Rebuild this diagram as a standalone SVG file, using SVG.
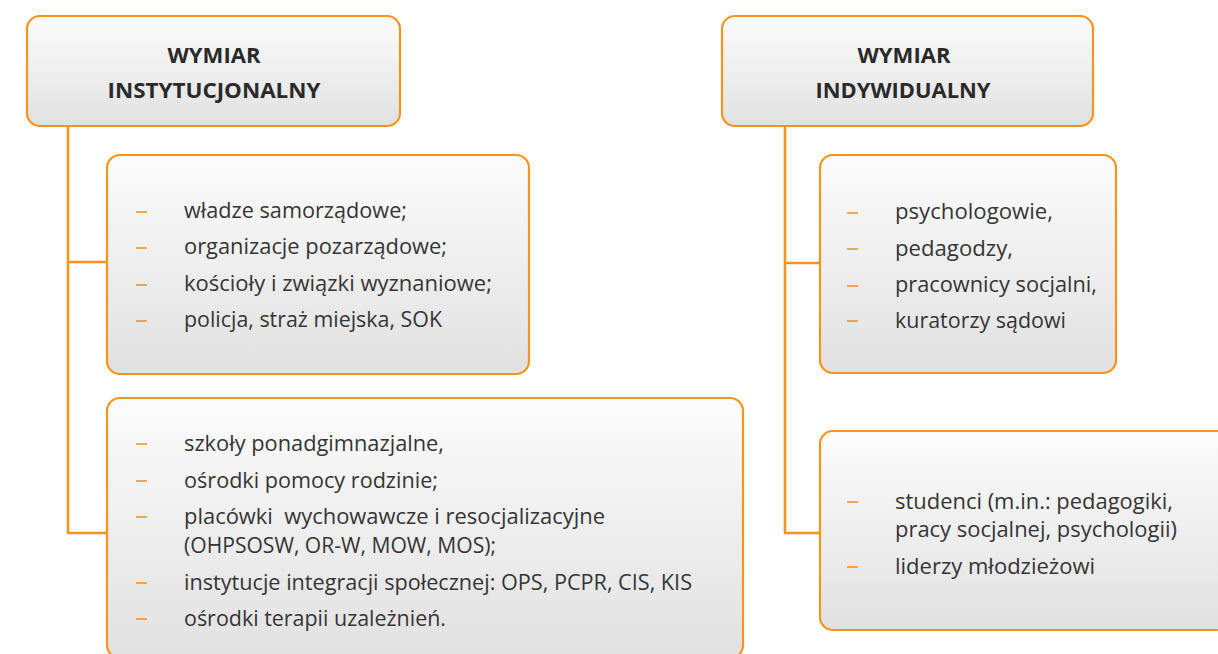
<svg xmlns="http://www.w3.org/2000/svg" width="1218" height="654" viewBox="0 0 1218 654">
<style>
.box{fill:url(#g);stroke:#F7941D;stroke-width:2.2}
.conn{fill:none;stroke:#F7941D;stroke-width:2.6}
.dash{stroke:#F7941D;stroke-width:1.6}
.t{font-family:"Open Sans","Liberation Sans",sans-serif;font-size:21px;fill:#353535}
.tc{font-family:"Open Sans","Liberation Sans",sans-serif;font-size:22px;fill:#353535}
.h{font-family:"Open Sans","Liberation Sans",sans-serif;font-size:22px;font-weight:bold;fill:#2a2a2a;text-anchor:middle}
</style>
<defs>
<linearGradient id="g" x1="0" y1="0" x2="0" y2="1">
<stop offset="0" stop-color="#fcfcfc"/>
<stop offset="1" stop-color="#e1e1e1"/>
</linearGradient>
</defs>
<g id="connectors">
<path class="conn" d="M68,126 V533 H107 M68,262 H107"/>
<path class="conn" d="M785,126 V533 H820 M785,263 H820"/>
</g>
<g id="wymiar-instytucjonalny">
<rect class="box" x="27" y="16" width="373" height="110" rx="13"/>
<text class="h" x="214" y="63" textLength="93" lengthAdjust="spacingAndGlyphs">WYMIAR</text>
<text class="h" x="214" y="98" textLength="213" lengthAdjust="spacingAndGlyphs">INSTYTUCJONALNY</text>
</g>
<g id="instytucje-1">
<rect class="box" x="107" y="155" width="422" height="219" rx="13"/>
<g class="dash"><line x1="136" y1="212" x2="147" y2="212"/><line x1="136" y1="248" x2="147" y2="248"/><line x1="136" y1="285" x2="147" y2="285"/><line x1="136" y1="321" x2="147" y2="321"/></g>
<text class="t" x="184" y="218" textLength="223" lengthAdjust="spacingAndGlyphs">władze samorządowe;</text>
<text class="t" x="184" y="254" textLength="263" lengthAdjust="spacingAndGlyphs">organizacje pozarządowe;</text>
<text class="t" x="184" y="291" textLength="308" lengthAdjust="spacingAndGlyphs">kościoły i związki wyznaniowe;</text>
<text class="t" x="184" y="327" textLength="258" lengthAdjust="spacingAndGlyphs">policja, straż miejska, SOK</text>
</g>
<g id="instytucje-2">
<rect class="box" x="107" y="398" width="636" height="260" rx="13"/>
<g class="dash"><line x1="136" y1="444" x2="147" y2="444"/><line x1="136" y1="481" x2="147" y2="481"/><line x1="136" y1="517" x2="147" y2="517"/><line x1="136" y1="583" x2="147" y2="583"/><line x1="136" y1="619" x2="147" y2="619"/></g>
<text class="tc" x="184" y="451" textLength="260" lengthAdjust="spacingAndGlyphs">szkoły ponadgimnazjalne,</text>
<text class="tc" x="184" y="488" textLength="254" lengthAdjust="spacingAndGlyphs">ośrodki pomocy rodzinie;</text>
<text class="tc" x="184" y="524" textLength="421" lengthAdjust="spacingAndGlyphs" style="white-space:pre">placówki  wychowawcze i resocjalizacyjne</text>
<text class="tc" x="184" y="553" textLength="312" lengthAdjust="spacingAndGlyphs">(OHPSOSW, OR-W, MOW, MOS);</text>
<text class="tc" x="184" y="590" textLength="508" lengthAdjust="spacingAndGlyphs">instytucje integracji społecznej: OPS, PCPR, CIS, KIS</text>
<text class="tc" x="184" y="626" textLength="262" lengthAdjust="spacingAndGlyphs">ośrodki terapii uzależnień.</text>
</g>
<g id="wymiar-indywidualny">
<rect class="box" x="722" y="16" width="371" height="110" rx="13"/>
<text class="h" x="904" y="63" textLength="93" lengthAdjust="spacingAndGlyphs">WYMIAR</text>
<text class="h" x="903" y="98" textLength="175" lengthAdjust="spacingAndGlyphs">INDYWIDUALNY</text>
</g>
<g id="indywidualni-1">
<rect class="box" x="820" y="155" width="296" height="218" rx="13"/>
<g class="dash"><line x1="847" y1="213" x2="858" y2="213"/><line x1="847" y1="249" x2="858" y2="249"/><line x1="847" y1="286" x2="858" y2="286"/><line x1="847" y1="321" x2="858" y2="321"/></g>
<text class="t" x="895" y="219" textLength="158" lengthAdjust="spacingAndGlyphs">psychologowie,</text>
<text class="t" x="895" y="256" textLength="118" lengthAdjust="spacingAndGlyphs">pedagodzy,</text>
<text class="t" x="895" y="292" textLength="202" lengthAdjust="spacingAndGlyphs">pracownicy socjalni,</text>
<text class="t" x="895" y="328" textLength="171" lengthAdjust="spacingAndGlyphs">kuratorzy sądowi</text>
</g>
<g id="indywidualni-2">
<rect class="box" x="820" y="431" width="420" height="199" rx="13"/>
<g class="dash"><line x1="847" y1="502" x2="858" y2="502"/><line x1="847" y1="567" x2="858" y2="567"/></g>
<text class="t" x="895" y="509" textLength="278" lengthAdjust="spacingAndGlyphs">studenci (m.in.: pedagogiki,</text>
<text class="t" x="895" y="537" textLength="282" lengthAdjust="spacingAndGlyphs">pracy socjalnej, psychologii)</text>
<text class="t" x="895" y="574" textLength="200" lengthAdjust="spacingAndGlyphs">liderzy młodzieżowi</text>
</g>
</svg>
